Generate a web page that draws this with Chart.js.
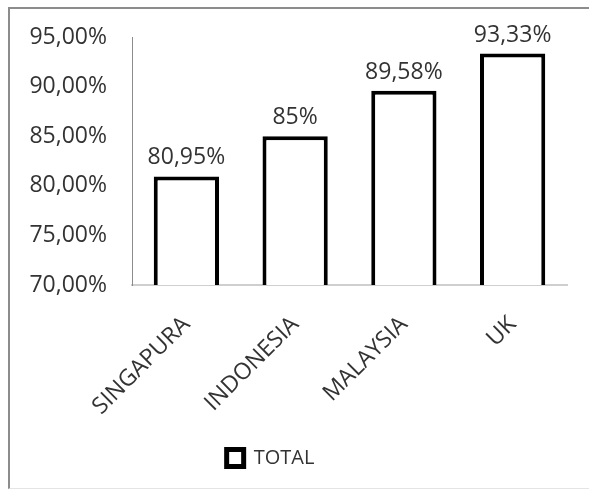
<!doctype html>
<html>
<head>
    <title>Total</title>
    <script src="https://cdn.jsdelivr.net/npm/chart.js"></script>
    <style>
        body { margin: 0; background: #fff; }
        #quadro {
            position: absolute; left: 8px; top: 7px; width: 583px; height: 479px;
            border-left: 2px solid #8c8c8c; border-top: 2px solid #8c8c8c; border-bottom: 1px solid #e4e4e4;
        }
        #quadro canvas { display: block; }
    </style>
</head>
<body>
    <div id="quadro"><canvas id="grafico" width="583" height="479"></canvas></div>

    <script>
        var paises = ['SINGAPURA', 'INDONESIA', 'MALAYSIA', 'UK'];
        var total = [80.95, 85, 89.58, 93.33];
        var rotulos = ['80,95%', '85%', '89,58%', '93,33%'];
        var fonte = "'Open Sans', sans-serif";
        var corTexto = '#333333';

        // escreve o valor em cima de cada barra
        var rotuloBarras = {
            id: 'rotuloBarras',
            afterDatasetsDraw(chart) {
                var ctx = chart.ctx;
                ctx.save();
                ctx.font = '23px ' + fonte;
                ctx.fillStyle = corTexto;
                ctx.textAlign = 'center';
                ctx.textBaseline = 'bottom';
                chart.getDatasetMeta(0).data.forEach((barra, i) => {
                    ctx.fillText(rotulos[i], barra.x, barra.y - 7);
                });
                ctx.restore();
            }
        };

        // legenda um pouco mais para a esquerda, como no original
        var moveLegenda = {
            id: 'moveLegenda',
            afterLayout(chart) {
                chart.legend.left -= 18;
                chart.legend.right -= 18;
            }
        };

        new Chart(document.getElementById('grafico').getContext('2d'), {
            type: 'bar',
            data: {
                labels: paises,
                datasets: [{
                    label: 'TOTAL',
                    data: total,
                    backgroundColor: '#ffffff',
                    borderColor: '#000000',
                    borderWidth: 4,
                    borderSkipped: false,
                    barPercentage: 0.6,
                    categoryPercentage: 1
                }]
            },
            options: {
                responsive: false,
                animation: false,
                layout: { padding: { top: 28, right: 26, bottom: 10, left: 0 } },
                plugins: {
                    tooltip: { enabled: false },
                    legend: {
                        position: 'bottom',
                        labels: {
                            color: corTexto,
                            font: { family: fonte, size: 20 },
                            boxWidth: 17,
                            boxHeight: 17,
                            padding: 10,
                            generateLabels(chart) {
                                var itens = Chart.defaults.plugins.legend.labels.generateLabels(chart);
                                itens.forEach(it => { it.lineWidth = 5; });
                                return itens;
                            }
                        }
                    }
                },
                scales: {
                    x: {
                        grid: { display: false, drawTicks: false },
                        border: { color: '#cfcfcf', width: 2 },
                        ticks: {
                            color: corTexto,
                            font: { family: fonte, size: 23 },
                            minRotation: 45,
                            maxRotation: 45,
                            padding: 26
                        },
                        afterFit(escala) {
                            escala.height = 153;
                            escala.paddingTop = 0;
                        }
                    },
                    y: {
                        min: 70,
                        max: 95,
                        grid: { display: false, drawTicks: false },
                        border: { color: '#8c8c8c', width: 1 },
                        ticks: {
                            stepSize: 5,
                            color: corTexto,
                            font: { family: fonte, size: 23 },
                            padding: 25,
                            callback: v => v.toFixed(2).replace('.', ',') + '%'
                        },
                        afterFit(escala) {
                            escala.width = 122;
                            escala.paddingTop = 0;
                        }
                    }
                }
            },
            plugins: [rotuloBarras, moveLegenda]
        });
    </script>
</body>
</html>
